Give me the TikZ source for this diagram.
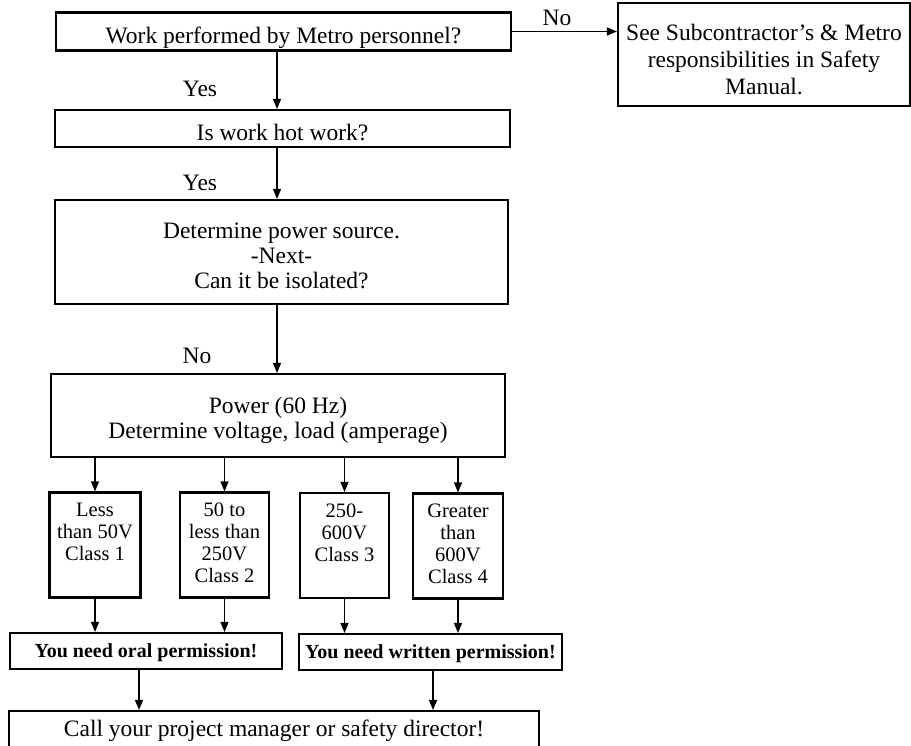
\documentclass[tikz,border=0pt]{standalone}
\usepackage{fontspec}
\setmainfont{Liberation Serif}
\usetikzlibrary{arrows.meta}
\newcommand\mainfs{\fontsize{23.5}{27}\selectfont}
\newcommand\mainfsb{\fontsize{23.5}{25}\selectfont}
\newcommand\clsfs{\fontsize{20.5}{22}\selectfont}
\newcommand\boldfs{\fontsize{20}{24}\selectfont\bfseries}
\newcommand\clstext[2]{\parbox[c][105pt][t]{#1pt}{\centering\clsfs\rule{0pt}{24pt}#2}}
\begin{document}
\begin{tikzpicture}[x=1pt,y=-1pt,
  box/.style={draw,line width=2.1pt,inner sep=0pt,align=center,font=\mainfs},
  tx/.style={inner sep=0pt,align=center,font=\mainfs,yshift=-5pt},
  arr/.style={line width=1.3pt,-{Triangle[length=10pt,width=8pt]}},
  lbl/.style={font=\mainfs,inner sep=0pt}]
\useasboundingbox (0,0) rectangle (911,746);

% main column boxes
\node[box,minimum width=455pt,minimum height=38pt] (b1) at (283.5,31.5) {};
\node[tx,yshift=-1pt] (b1t) at (b1) {Work performed by Metro personnel?};
\node[box,minimum width=292pt,minimum height=103pt] (r) at (764,54.5) {};
\node[tx] (rt) at (r) {See Subcontractor's \& Metro\\responsibilities in Safety\\Manual.};
\node[box,minimum width=455pt,minimum height=37pt] (b2) at (282.5,128.5) {};
\node[tx,yshift=1pt] (b2t) at (b2) {Is work hot work?};
\node[box,minimum width=453pt,minimum height=104pt] (b3) at (281.5,252) {};
\node[tx,font=\mainfsb,yshift=1pt] (b3t) at (b3) {Determine power source.\\-Next-\\Can it be isolated?};
\node[box,minimum width=454pt,minimum height=83pt] (b4) at (278,415.5) {};
\node[tx,font=\mainfsb] (b4t) at (b4) {Power (60 Hz)\\Determine voltage, load (amperage)};

% labels
\node[lbl] (no1) at (557,18) {No};
\node[lbl] (yes1) at (200,89) {Yes};
\node[lbl] (yes2) at (200,183) {Yes};
\node[lbl] (no2) at (197,356) {No};

% class boxes
\node[box,minimum width=91pt] (c1) at (95,545) {\clstext{88}{Less\\than 50V\\Class 1}};
\node[box,minimum width=89pt] (c2) at (224.5,545) {\clstext{86}{50 to\\less than\\250V\\Class 2}};
\node[box,minimum width=89pt] (c3) at (344.5,545.5) {\clstext{86}{250-\\600V\\Class 3}};
\node[box,minimum width=90pt] (c4) at (458,546) {\clstext{87}{Greater\\than\\600V\\Class 4}};

% permission boxes
\node[box,minimum width=272pt,minimum height=36pt] (oral) at (146,651) {};
\node[tx,font=\boldfs,yshift=3pt] (oralt) at (oral) {You need oral permission!};
\node[box,minimum width=263pt,minimum height=36pt] (written) at (430.5,652) {};
\node[tx,font=\boldfs,yshift=3pt] (writtent) at (written) {You need written permission!};
\node[box,minimum width=530pt,minimum height=36pt] (call) at (274,729) {};
\node[tx,yshift=3pt] (callt) at (call) {Call your project manager or safety director!};

% connectors
\coordinate (col) at (277,0);
\coordinate (k1) at (139,0);
\coordinate (k2) at (433,0);
\draw[arr] (b1.east) -- (b1.east -| r.west);
\draw[arr] (b1.south -| col) -- (b2.north -| col);
\draw[arr] (b2.south -| col) -- (b3.north -| col);
\draw[arr] (b3.south -| col) -- (b4.north -| col);
\foreach \c in {c1,c2,c3,c4} \draw[arr] (b4.south -| \c.north) -- (\c.north);
\draw[arr] (c1.south) -- (c1.south |- oral.north);
\draw[arr] (c2.south) -- (c2.south |- oral.north);
\draw[arr] (c3.south) -- (c3.south |- written.north);
\draw[arr] (c4.south) -- (c4.south |- written.north);
\draw[arr] (oral.south -| k1) -- (call.north -| k1);
\draw[arr] (written.south -| k2) -- (call.north -| k2);
\end{tikzpicture}
\end{document}
